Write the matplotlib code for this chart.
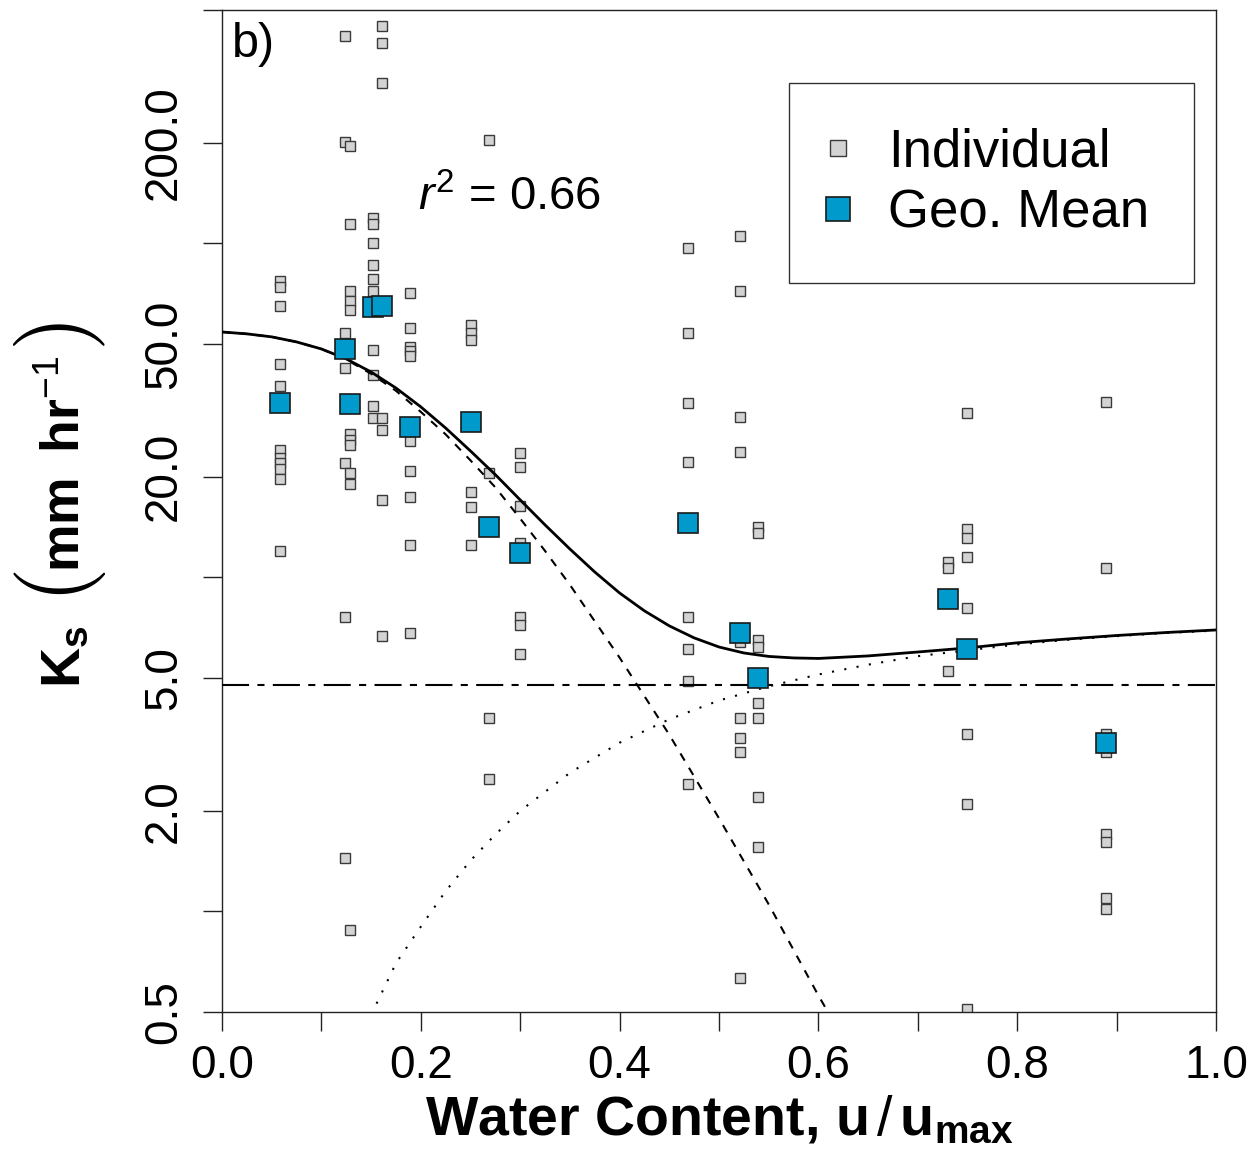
import matplotlib
matplotlib.use("Agg")
import matplotlib.pyplot as plt
from matplotlib.lines import Line2D
from matplotlib.ticker import FixedLocator, FixedFormatter

plt.rcParams["font.family"] = ["Liberation Sans", "DejaVu Sans"]
plt.rcParams["mathtext.fontset"] = "custom"
plt.rcParams["mathtext.rm"] = "Liberation Sans"
plt.rcParams["mathtext.it"] = "Liberation Sans:italic"
plt.rcParams["mathtext.bf"] = "Liberation Sans:bold"

# Relative water content of each sampling group
column_x = [0.058, 0.124, 0.129, 0.152, 0.161, 0.189, 0.250, 0.269,
            0.300, 0.469, 0.521, 0.539, 0.730, 0.750, 0.889]

# Individual Ks measurements (mm/hr), one list per group
individual_ks = [
    [77, 74, 65, 43.5, 37.4, 24.1, 22.8, 22.0, 21.1, 19.7, 12.0],
    [418, 201, 54, 42.4, 22.0, 7.6, 1.45],
    [196, 114, 72, 67, 63, 26.9, 25.8, 24.9, 20.6, 19.0, 0.88],
    [119, 114, 100, 86, 78, 72, 48, 40.4, 32.6, 30.0],
    [447, 398, 302, 30.0, 27.7, 17.1, 6.7],
    [71, 56, 49, 47.6, 46, 25.6, 20.8, 17.4, 12.5, 6.8],
    [57, 54, 51.4, 18.0, 16.3, 12.5],
    [204, 20.6, 3.8, 2.5],
    [23.6, 21.4, 16.4, 12.7, 7.6, 7.2, 5.9],
    [97, 54, 33.3, 22.2, 7.6, 6.1, 4.9, 2.4],
    [105, 72, 30.2, 23.8, 6.4, 3.8, 3.3, 3.0, 0.63],
    [14.2, 13.6, 6.5, 6.2, 4.2, 3.8, 2.2, 1.56],
    [11.1, 10.7, 5.25],
    [31.1, 14.0, 13.1, 11.5, 8.1, 3.4, 2.1, 0.51],
    [33.5, 10.7, 3.4, 3.0, 1.70, 1.61, 1.10, 1.02],
]

# Geometric mean of each group
geo_mean_ks = [33.3, 48.3, 33.0, 64.6, 65.0, 28.2, 29.2, 14.2,
               11.8, 14.6, 6.8, 5.0, 8.6, 6.1, 3.2]

# Fitted model: total, decaying term, rising term
curve_x = [0.000, 0.025, 0.050, 0.075, 0.100, 0.125, 0.150, 0.175, 0.200,
           0.225, 0.250, 0.275, 0.300, 0.325, 0.350, 0.375, 0.400, 0.425,
           0.450, 0.475, 0.500, 0.525, 0.550, 0.575, 0.600, 0.650, 0.700,
           0.750, 0.800, 0.850, 0.900, 0.950, 1.000]
fit_total = [54.3, 53.6, 52.5, 50.7, 48.3, 45.1, 41.2, 36.9, 32.4,
             28.0, 23.9, 20.3, 17.06, 14.36, 12.16, 10.38, 8.98, 7.94,
             7.16, 6.59, 6.19, 5.94, 5.80, 5.74, 5.72, 5.82, 5.98,
             6.15, 6.37, 6.54, 6.70, 6.84, 6.96]
decay_x = [0.000, 0.025, 0.050, 0.075, 0.100, 0.125, 0.150, 0.175, 0.200,
           0.225, 0.250, 0.275, 0.300, 0.325, 0.350, 0.400, 0.450, 0.500,
           0.550, 0.600, 0.650]
fit_decay = [54.3, 53.6, 52.5, 50.7, 48.3, 44.9, 40.7, 36.2, 31.3,
             26.8, 22.4, 18.6, 15.0, 12.0, 9.5, 5.75, 3.38, 1.90,
             1.05, 0.56, 0.31]
rise_x = [0.150, 0.175, 0.200, 0.225, 0.250, 0.275, 0.300, 0.350, 0.400,
          0.450, 0.500, 0.550, 0.600, 0.650, 0.700, 0.750, 0.800, 0.850,
          0.900, 0.950, 1.000]
fit_rise = [0.49, 0.70, 0.90, 1.15, 1.42, 1.70, 2.0, 2.60, 3.20,
            3.76, 4.28, 4.72, 5.12, 5.48, 5.81, 6.05, 6.30, 6.50,
            6.67, 6.82, 6.93]
baseline_ks = 4.75

y_ticks = [0.5, 1, 2, 5, 10, 20, 50, 100, 200, 500]
y_tick_labels = ["0.5", "", "2.0", "5.0", "", "20.0", "50.0", "", "200.0", ""]
x_ticks = [0.0, 0.1, 0.2, 0.3, 0.4, 0.5, 0.6, 0.7, 0.8, 0.9, 1.0]
x_tick_labels = ["0.0", "", "0.2", "", "0.4", "", "0.6", "", "0.8", "", "1.0"]

gray_fill = "#d3d3d3"
gray_edge = "#3a3a3a"
blue_fill = "#009acd"
blue_edge = "#1a1a1a"

fig = plt.figure(figsize=(12.58, 11.56), dpi=100)
ax = fig.add_axes([0.1765, 0.1246, 0.7901, 0.8668])

# Individual measurements
for x, vals in zip(column_x, individual_ks):
    ax.plot([x] * len(vals), vals, ls="none", marker="s", ms=6.6,
            mfc=gray_fill, mec=gray_edge, mew=1.0, zorder=2)

# Model curves
ax.plot(curve_x, fit_total, color="black", lw=2.0, zorder=3)
ax.plot(decay_x, fit_decay, color="black", lw=1.5, dashes=(4, 4), zorder=3)
ax.plot(rise_x, fit_rise, color="black", lw=1.5, dashes=(1, 5), zorder=3)
ax.axhline(baseline_ks, color="black", lw=1.5, dashes=(13, 4, 3.4, 4), zorder=3)

# Geometric means
ax.plot(column_x, geo_mean_ks, ls="none", marker="s", ms=15,
        mfc=blue_fill, mec=blue_edge, mew=1.2, zorder=4)

ax.set_yscale("log")
ax.set_xlim(0, 1)
ax.set_ylim(0.5, 500)

ax.yaxis.set_major_locator(FixedLocator(y_ticks))
ax.yaxis.set_major_formatter(FixedFormatter(y_tick_labels))
ax.yaxis.set_minor_locator(FixedLocator([]))
ax.xaxis.set_major_locator(FixedLocator(x_ticks))
ax.xaxis.set_major_formatter(FixedFormatter(x_tick_labels))

ax.tick_params(direction="out", length=14, width=1.0, labelsize=33, color="#222222")
ax.tick_params(axis="x", pad=9)
ax.tick_params(axis="y", pad=12)
for lbl in ax.get_yticklabels():
    lbl.set_rotation(90)
    lbl.set_va("center")

for spine in ax.spines.values():
    spine.set_linewidth(1.0)
    spine.set_color("#222222")

ax.set_xlabel(r"Water Content, u$\,/\,\mathbf{u_{max}}$", fontsize=40, fontweight="bold")
ax.xaxis.set_label_coords(0.5, -0.083)

# y label built from pieces so the brackets can be drawn tall and thin
W, H = 1258.0, 1156.0
ylab = dict(rotation=90, rotation_mode="anchor", ha="center", va="baseline")
fig.text(80 / W, 1 - 657 / H, r"$\mathbf{K_s}$", fontsize=40, **ylab)
fig.text(83 / W, 1 - 587 / H, r"$($", fontsize=66, math_fontfamily="cm", **ylab)
fig.text(80 / W, 1 - 464 / H, r"$\mathbf{mm\;\;hr}^{-1}$", fontsize=38.5, **ylab)
fig.text(83 / W, 1 - 337 / H, r"$)$", fontsize=66, math_fontfamily="cm", **ylab)

ax.text(0.010, 0.988, "b)", transform=ax.transAxes, fontsize=35, va="top", ha="left")
ax.text(0.197, 0.800, r"$\mathit{r}^{\mathrm{2}}$ = 0.66", transform=ax.transAxes,
        fontsize=34, va="baseline", ha="left")

handles = [
    Line2D([], [], ls="none", marker="s", ms=12, mfc=gray_fill, mec=gray_edge, mew=1.0),
    Line2D([], [], ls="none", marker="s", ms=17, mfc=blue_fill, mec=blue_edge, mew=1.2),
]
leg = ax.legend(handles, ["Individual", "Geo. Mean"], loc="upper left",
                bbox_to_anchor=(0.5704, 0.9271), borderaxespad=0, fontsize=38,
                frameon=True, fancybox=False, edgecolor="#333333", framealpha=1,
                borderpad=0.85, handletextpad=0.87, handlelength=0.15, labelspacing=0.2)
leg.get_frame().set_linewidth(1.0)

fig.savefig("out.png", dpi=100)
